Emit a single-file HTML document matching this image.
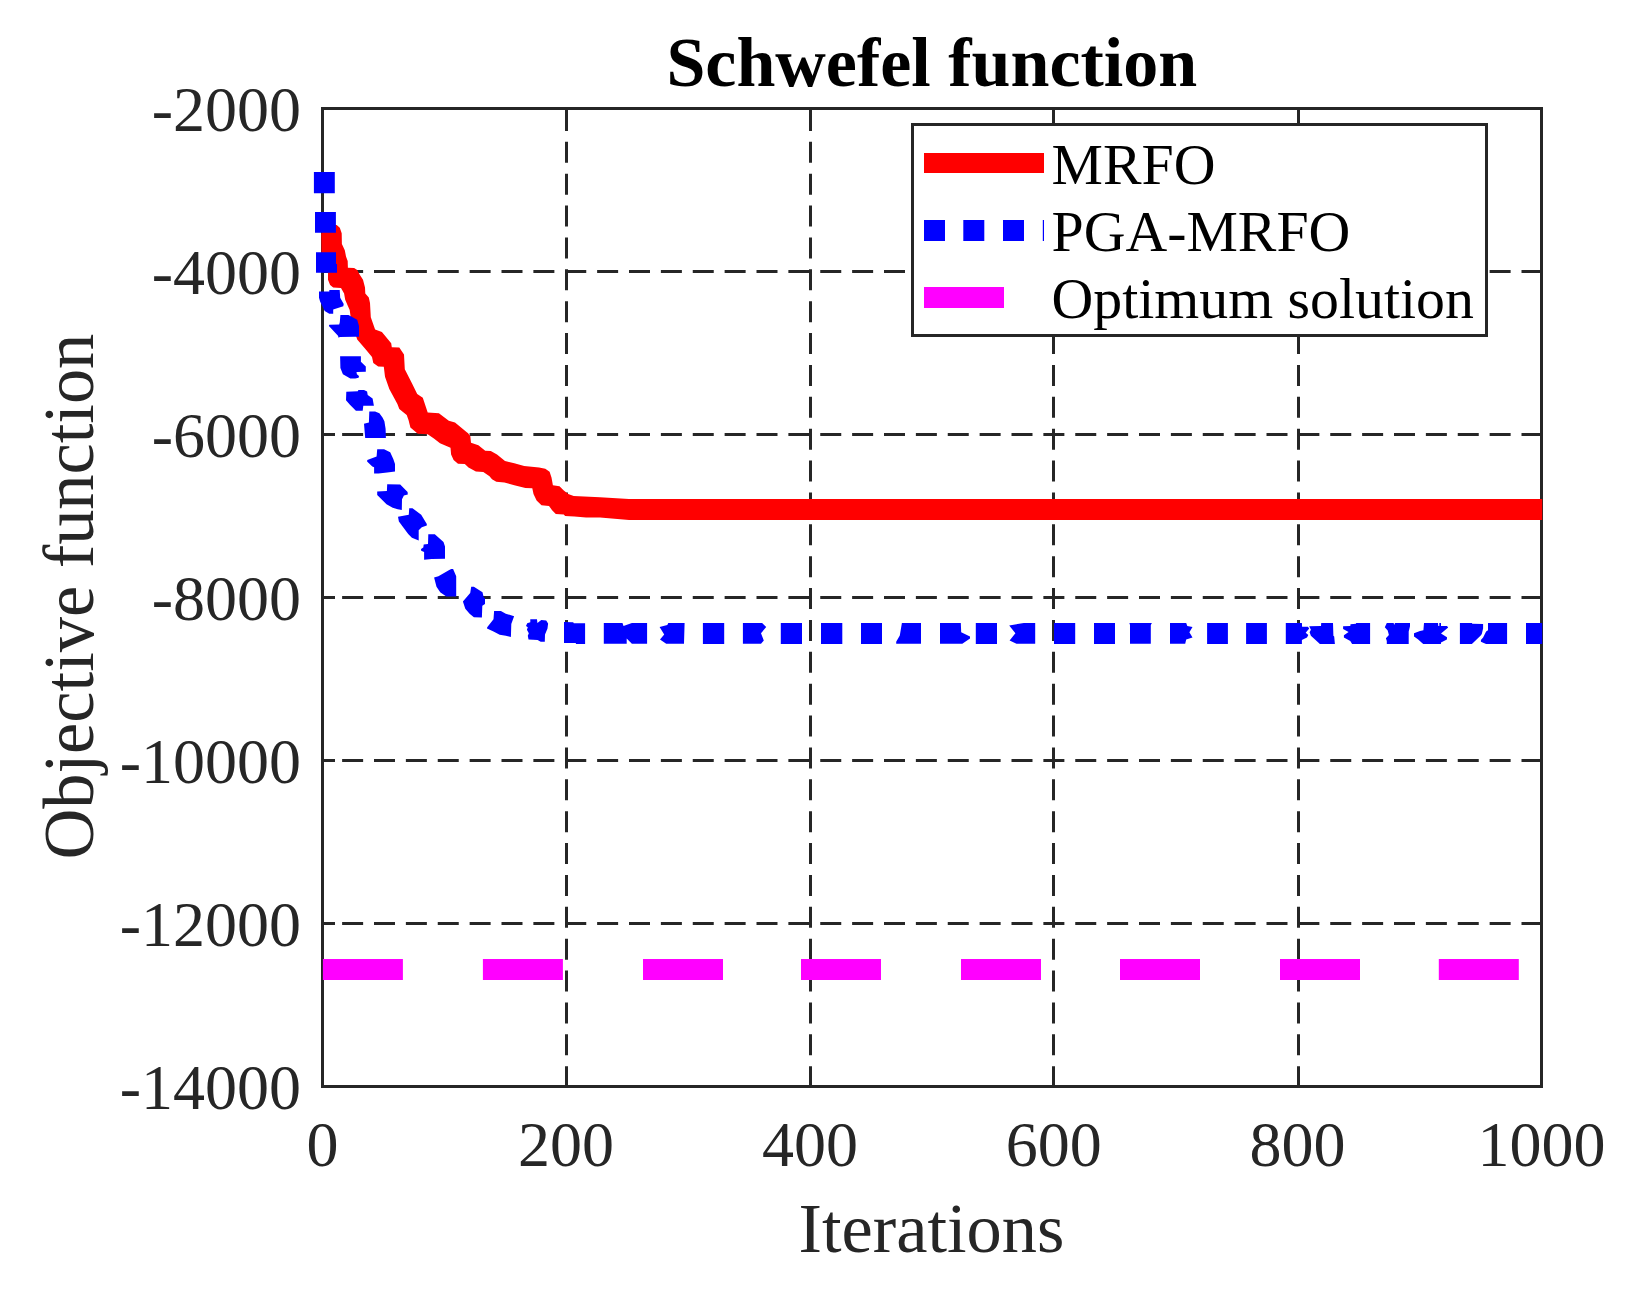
<!DOCTYPE html>
<html lang="en">
<head>
<meta charset="utf-8">
<title>Schwefel function</title>
<style>
html,body{margin:0;padding:0;background:#fff;}
body{width:1632px;height:1292px;overflow:hidden;font-family:"Liberation Serif","Times New Roman",serif;}
svg{display:block;}
text{font-family:"Liberation Serif","Times New Roman",serif;}
.tick text{font-size:64px;fill:#262626;}
.grid line{stroke:#262626;stroke-width:3;stroke-dasharray:21 10.875;}
.grid line.h{stroke-dashoffset:1;}
.grid line.v{stroke-dashoffset:0.7;}
.ticks line{stroke:#262626;stroke-width:3;}
.lab{font-size:70.4px;fill:#262626;}
.title{font-size:70.0px;font-weight:bold;fill:#000;}
.leg text{font-size:57.8px;fill:#000;}
</style>
</head>
<body>
<svg width="1632" height="1292" viewBox="0 0 1632 1292">
<rect width="1632" height="1292" fill="#fff"/>
<g class="grid"><line class="v" x1="566.5" y1="1086.5" x2="566.5" y2="108.5"/><line class="v" x1="810.5" y1="1086.5" x2="810.5" y2="108.5"/><line class="v" x1="1053.5" y1="1086.5" x2="1053.5" y2="108.5"/><line class="v" x1="1298.5" y1="1086.5" x2="1298.5" y2="108.5"/><line class="h" x1="1541.5" y1="271.5" x2="322.5" y2="271.5"/><line class="h" x1="1541.5" y1="434.5" x2="322.5" y2="434.5"/><line class="h" x1="1541.5" y1="597.5" x2="322.5" y2="597.5"/><line class="h" x1="1541.5" y1="760.5" x2="322.5" y2="760.5"/><line class="h" x1="1541.5" y1="923.5" x2="322.5" y2="923.5"/></g>
<g class="ticks"><line x1="566.5" y1="1086.5" x2="566.5" y2="1074.0"/><line x1="566.5" y1="108.5" x2="566.5" y2="121.0"/><line x1="810.5" y1="1086.5" x2="810.5" y2="1074.0"/><line x1="810.5" y1="108.5" x2="810.5" y2="121.0"/><line x1="1053.5" y1="1086.5" x2="1053.5" y2="1074.0"/><line x1="1053.5" y1="108.5" x2="1053.5" y2="121.0"/><line x1="1298.5" y1="1086.5" x2="1298.5" y2="1074.0"/><line x1="1298.5" y1="108.5" x2="1298.5" y2="121.0"/><line x1="322.5" y1="271.5" x2="335.0" y2="271.5"/><line x1="1541.5" y1="271.5" x2="1529.0" y2="271.5"/><line x1="322.5" y1="434.5" x2="335.0" y2="434.5"/><line x1="1541.5" y1="434.5" x2="1529.0" y2="434.5"/><line x1="322.5" y1="597.5" x2="335.0" y2="597.5"/><line x1="1541.5" y1="597.5" x2="1529.0" y2="597.5"/><line x1="322.5" y1="760.5" x2="335.0" y2="760.5"/><line x1="1541.5" y1="760.5" x2="1529.0" y2="760.5"/><line x1="322.5" y1="923.5" x2="335.0" y2="923.5"/><line x1="1541.5" y1="923.5" x2="1529.0" y2="923.5"/></g>
<rect x="322.5" y="108.5" width="1219.0" height="978.0" fill="none" stroke="#262626" stroke-width="3"/>
<g fill="#ff00ff"><rect x="322.9" y="959" width="80" height="21"/><rect x="482.9" y="959" width="80" height="21"/><rect x="643" y="959" width="80" height="21"/><rect x="801" y="959" width="80" height="21"/><rect x="961" y="959" width="80" height="21"/><rect x="1120" y="959" width="80" height="21"/><rect x="1280" y="959" width="80" height="21"/><rect x="1438.8" y="959" width="80" height="21"/></g>
<path fill="#ff0000" d="M321.6,233.2 L325.5,226.6 L331.7,225.1 L336.7,225.1 L339.8,227.8 L341.7,233.2 L341.9,244.1 L344.8,250.2 L346.0,256.4 L347.7,261.1 L347.9,267.7 L354.1,267.9 L357.2,270.0 L359.5,274.2 L363.0,279.7 L365.0,287.4 L365.3,293.6 L368.8,297.5 L370.0,302.9 L370.4,309.9 L370.8,317.2 L375.1,329.6 L381.9,332.1 L391.2,343.3 L391.8,347.2 L399.3,347.6 L404.0,354.4 L404.8,369.3 L412.3,384.1 L417.2,394.0 L422.8,397.7 L427.7,412.6 L438.9,413.2 L448.8,420.7 L455.0,422.5 L468.6,433.7 L466.6,431.6 L470.3,435.9 L471.0,442.7 L478.4,445.2 L485.2,450.8 L490.8,451.1 L497.0,454.5 L505.0,460.9 L514.3,463.2 L524.2,466.0 L539.1,467.5 L545.3,468.7 L549.6,471.8 L551.5,477.4 L552.9,485.2 L559.5,486.3 L563.8,490.4 L568.2,494.1 L573.7,496.0 L600.0,497.2 L629.0,499.0 L1542.2,499.0 L1542.2,520.0 L629.0,520.0 L600.0,517.6 L586.1,517.4 L574.4,516.4 L565.1,516.0 L563.8,514.6 L555.8,513.9 L552.1,510.2 L549.0,505.9 L541.5,505.3 L536.6,500.6 L533.5,494.1 L532.3,488.2 L525.4,487.9 L514.3,485.2 L504.4,482.4 L496.3,481.7 L492.0,479.3 L489.5,476.2 L483.3,472.1 L475.9,471.6 L468.5,467.5 L464.8,464.1 L458.0,463.8 L453.6,460.1 L451.1,454.5 L450.5,447.7 L440.0,443.3 L433.9,438.6 L427.7,434.3 L417.8,433.7 L410.4,427.5 L408.5,420.0 L406.7,415.1 L399.3,408.9 L397.4,403.9 L389.3,389.1 L385.0,376.7 L383.8,366.8 L378.2,366.5 L373.3,363.1 L372.0,356.9 L365.8,349.4 L357.2,339.5 L351.0,319.7 L349.7,309.9 L347.9,306.0 L345.2,299.8 L344.1,293.6 L341.0,288.0 L333.2,287.6 L330.1,285.1 L328.0,279.7 L328.0,272.7 L321.6,264.2 L321.2,233.2Z"/>
<path fill="#0000ff" d="M313.9,172.1 L334.8,172.1 L334.8,193.3 L313.9,193.3Z M315.0,211.9 L335.9,211.9 L335.9,232.8 L315.0,232.8Z M316.0,252.2 L336.0,252.2 L336.0,264.0 L337.0,264.0 L337.0,272.8 L316.0,272.8Z M319.0,291.6 L329.3,291.6 L329.3,290.0 L339.7,290.0 L340.2,297.8 L343.7,304.0 L343.3,306.3 L333.2,309.4 L333.2,313.7 L329.3,313.7 L324.7,310.9 L320.1,301.6 L319.0,297.8Z M340.4,315.1 L348.5,315.1 L357.2,319.7 L359.0,325.9 L359.0,336.8 L354.1,336.8 L339.8,337.1 L338.6,337.7 L338.0,335.8 L328.9,325.9 L329.3,324.7 L339.2,324.4 L339.8,322.2Z M340.1,356.3 L360.9,356.3 L360.9,361.8 L365.8,366.5 L365.8,371.7 L356.5,372.0 L356.9,374.2 L359.0,376.1 L358.6,377.7 L355.3,378.5 L350.3,378.5 L342.9,374.2 L340.4,368.0Z M346.3,391.8 L357.8,391.3 L358.4,390.1 L364.0,390.1 L367.1,391.5 L367.7,395.0 L372.6,398.4 L373.9,405.8 L363.3,405.8 L362.7,410.7 L355.9,410.7 L349.7,404.6 L346.0,400.2Z M369.3,411.4 L375.1,411.4 L379.4,413.2 L382.5,417.6 L384.4,421.3 L385.6,428.7 L385.9,438.0 L365.2,438.0 L364.0,423.7 L368.9,422.5Z M377.2,449.2 L384.1,449.2 L390.2,452.3 L393.3,459.1 L395.0,464.1 L395.0,471.5 L387.2,472.4 L378.5,473.6 L374.1,473.6 L374.1,467.2 L372.3,466.5 L367.1,461.6 L367.3,460.0 L376.6,456.6Z M387.2,484.2 L400.2,484.5 L407.6,491.9 L407.8,494.4 L403.9,495.6 L402.0,499.3 L401.8,509.9 L397.7,509.3 L392.7,507.8 L386.5,504.3 L377.2,495.0 L377.2,491.5 L386.9,490.9Z M409.2,508.3 L412.5,508.3 L421.2,514.8 L426.8,524.1 L426.8,525.6 L421.8,527.2 L418.7,530.3 L418.7,540.6 L411.9,537.7 L408.2,534.0 L398.9,521.6 L398.0,516.7 L408.8,514.8Z M428.3,534.3 L434.8,534.3 L443.5,542.1 L445.0,546.4 L445.0,558.8 L431.7,559.0 L424.1,559.8 L424.1,552.0 L421.2,550.7 L421.0,549.1 L423.3,547.6 L423.7,544.6 L428.0,543.9Z M451.2,569.0 L453.1,569.0 L456.2,576.3 L456.2,596.6 L446.3,596.6 L440.2,592.3 L436.5,586.8 L434.1,577.6 L438.4,576.3 L448.8,570.2Z M471.2,586.8 L473.9,586.8 L482.5,592.3 L483.7,597.2 L485.0,598.4 L485.0,603.9 L482.3,605.8 L481.9,617.6 L473.9,617.2 L469.6,613.7 L465.3,608.8 L462.9,601.5 L470.2,592.9Z M494.1,611.0 L500.9,611.0 L505.8,613.7 L514.1,616.2 L511.3,624.1 L510.9,637.0 L505.8,635.8 L499.7,634.8 L493.5,631.5 L487.0,628.4 L487.2,627.2 L493.5,619.2Z M530.3,619.2 L537.0,619.2 L537.4,622.9 L541.3,620.1 L546.2,620.5 L548.1,623.5 L547.5,628.4 L545.0,634.6 L544.8,641.7 L540.7,641.7 L537.6,640.1 L528.5,639.5 L527.8,635.8 L528.8,633.3 L526.9,629.7 L527.8,627.2 L526.0,626.0 L527.2,623.3 L530.3,622.3Z M564.0,622.1 L573.2,622.3 L573.8,623.2 L585.1,623.2 L585.1,643.9 L576.2,643.9 L575.6,642.9 L564.0,642.9Z M603.8,622.9 L622.5,622.9 L623.5,626.0 L631.9,622.9 L647.1,622.9 L647.1,643.8 L631.9,643.8 L626.7,638.5 L626.7,643.8 L603.8,643.8Z M659.6,627.1 L667.3,625.0 L668.3,622.9 L684.6,622.9 L684.0,643.8 L666.2,643.8 L660.0,639.6 L664.2,634.4Z M702.9,623.0 L724.2,623.0 L724.2,644.0 L702.9,644.0Z M742.9,622.9 L762.1,622.9 L766.2,627.1 L761.0,633.3 L763.8,640.6 L761.0,643.8 L742.9,643.8Z M780.8,623.0 L802.0,623.0 L802.0,644.0 L780.8,644.0Z M821.0,623.0 L842.3,623.0 L842.3,644.0 L821.0,644.0Z M861.0,623.0 L882.0,623.0 L882.0,644.0 L861.0,644.0Z M901.9,622.9 L921.0,622.9 L921.0,643.8 L896.2,643.8 L896.2,641.7 L899.8,635.4Z M940.0,622.9 L960.8,622.9 L961.2,632.3 L970.0,636.5 L970.0,638.5 L962.3,643.8 L940.0,643.8Z M975.8,623.0 L997.0,623.0 L997.0,644.0 L975.8,644.0Z M1009.2,625.4 L1023.8,622.9 L1035.2,622.9 L1035.2,643.8 L1016.5,643.8 L1009.6,640.6 L1015.4,633.3Z M1054.0,623.0 L1075.2,623.0 L1075.2,644.0 L1054.0,644.0Z M1094.0,623.0 L1115.0,623.0 L1115.0,644.0 L1094.0,644.0Z M1129.4,622.9 L1151.9,622.9 L1150.8,625.0 L1150.8,643.8 L1130.0,643.8 L1130.0,625.0Z M1170.0,622.9 L1186.2,622.9 L1187.3,626.0 L1192.5,627.1 L1189.4,632.3 L1192.5,637.5 L1186.2,639.6 L1185.2,643.8 L1170.0,643.8Z M1207.1,623.0 L1227.9,623.0 L1227.9,644.0 L1207.1,644.0Z M1246.1,623.0 L1266.9,623.0 L1266.9,644.0 L1246.1,644.0Z M1285.8,623.0 L1301.9,623.0 L1302.1,626.7 L1307.9,626.7 L1309.2,628.4 L1305.7,632.7 L1308.3,634.9 L1307.0,637.5 L1301.9,640.0 L1301.9,643.9 L1285.8,643.9Z M1309.2,626.3 L1321.0,625.9 L1321.2,623.0 L1333.0,623.0 L1333.4,635.7 L1334.2,636.6 L1334.9,643.9 L1319.9,643.9 L1310.9,635.7 L1309.6,632.3 L1310.9,629.7Z M1343.1,626.3 L1350.3,625.9 L1350.5,624.2 L1355.9,623.7 L1356.2,623.0 L1370.1,623.0 L1370.1,643.9 L1352.1,643.9 L1350.3,640.9 L1343.9,637.5 L1343.9,635.3 L1348.6,631.9 L1343.1,628.9Z M1386.8,623.0 L1393.7,623.0 L1394.1,625.0 L1395.0,623.0 L1410.0,623.0 L1410.0,626.3 L1408.7,631.4 L1408.7,643.9 L1386.8,643.9 L1386.8,640.9 L1385.9,638.3 L1388.9,634.9 L1387.7,630.6 L1384.8,627.2Z M1414.0,633.2 L1420.0,631.0 L1423.4,630.2 L1424.0,623.0 L1438.0,623.0 L1438.3,625.9 L1439.3,625.9 L1439.3,623.0 L1441.0,623.0 L1441.0,625.9 L1447.0,626.1 L1448.2,627.6 L1441.0,633.6 L1447.0,637.3 L1446.9,639.6 L1441.0,642.6 L1440.9,643.9 L1423.2,643.9 L1417.9,639.2 L1414.0,636.6Z M1459.9,623.0 L1471.9,623.0 L1472.3,623.7 L1483.1,623.9 L1483.1,628.4 L1481.8,634.0 L1480.5,635.7 L1471.9,643.9 L1459.9,643.9Z M1488.0,623.0 L1507.1,623.0 L1507.1,643.9 L1486.1,643.9 L1480.9,641.7 L1480.9,640.0 L1483.1,637.5 L1486.1,631.4 L1488.0,630.2Z M1526.0,623.0 L1542.2,623.0 L1542.2,644.0 L1526.0,644.0Z"/>
<g class="leg">
<rect x="912.5" y="124.5" width="574" height="211" fill="#fff" stroke="#262626" stroke-width="3"/>
<rect x="924" y="153" width="120" height="20" fill="#ff0000"/>
<g fill="#0000ff"><rect x="924" y="220" width="21" height="21"/><rect x="963.3" y="220" width="21" height="21"/><rect x="1003" y="220" width="21" height="21"/><rect x="1042.8" y="220" width="1.2" height="21"/></g>
<rect x="924" y="287" width="80" height="21" fill="#ff00ff"/>
<text x="1051.6" y="184">MRFO</text>
<text x="1051.6" y="251">PGA-MRFO</text>
<text x="1051.6" y="318">Optimum solution</text>
</g>
<g class="tick"><text x="322.6" y="1165.7" text-anchor="middle">0</text><text x="566.0" y="1165.7" text-anchor="middle">200</text><text x="809.9" y="1165.7" text-anchor="middle">400</text><text x="1053.7" y="1165.7" text-anchor="middle">600</text><text x="1297.5" y="1165.7" text-anchor="middle">800</text><text x="1541.6" y="1165.7" text-anchor="middle">1000</text><text x="301" y="130.9" text-anchor="end">-2000</text><text x="301" y="293.9" text-anchor="end">-4000</text><text x="301" y="456.9" text-anchor="end">-6000</text><text x="301" y="619.9" text-anchor="end">-8000</text><text x="301" y="782.9" text-anchor="end">-10000</text><text x="301" y="945.9" text-anchor="end">-12000</text><text x="301" y="1108.9" text-anchor="end">-14000</text></g>
<text class="title" x="931.8" y="85.7" text-anchor="middle">Schwefel function</text>
<text class="lab" x="931.5" y="1251.6" text-anchor="middle">Iterations</text>
<text class="lab" transform="translate(93.0,596.6) rotate(-90) scale(1,1.035)" text-anchor="middle">Objective function</text>
</svg>
</body>
</html>
